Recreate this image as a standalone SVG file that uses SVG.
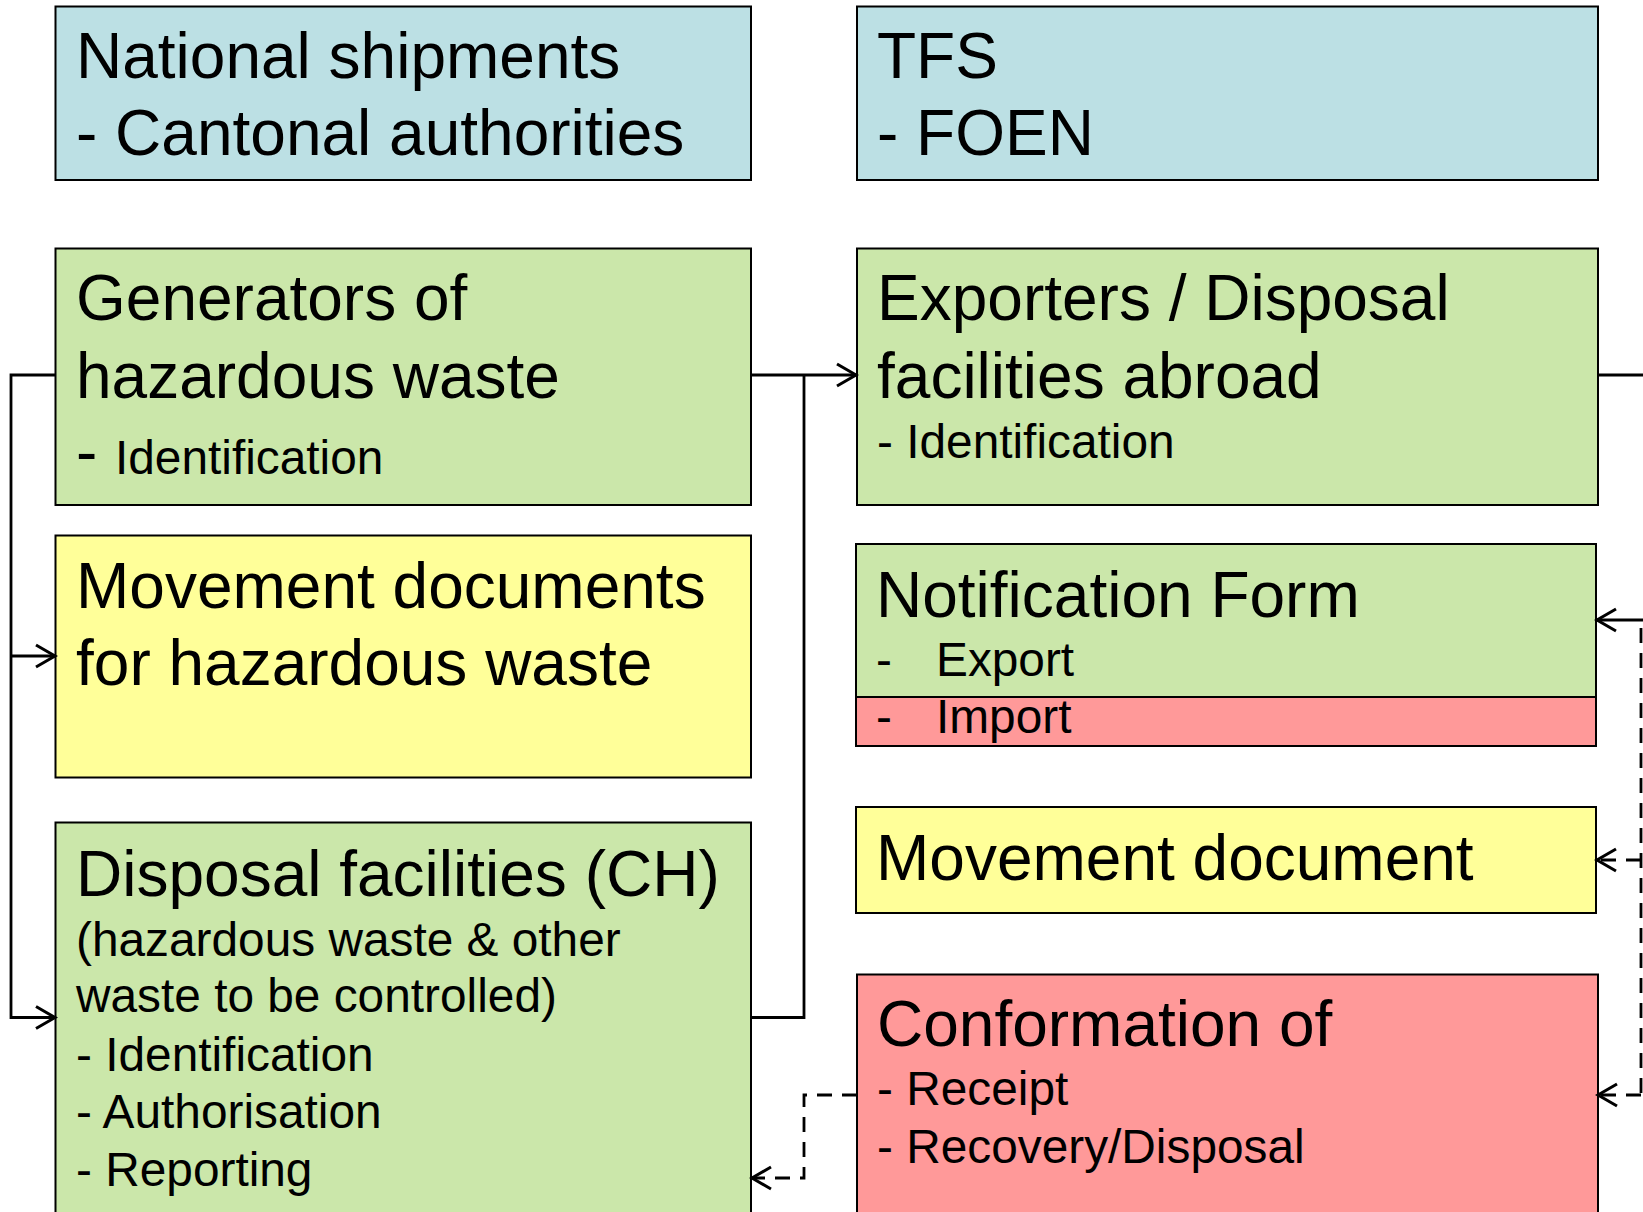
<svg xmlns="http://www.w3.org/2000/svg" width="1643" height="1212" viewBox="0 0 1643 1212">
<style>
.box{stroke:#000;stroke-width:2}
.blue{fill:#BCE0E4}
.green{fill:#CBE7AA}
.yellow{fill:#FFFF99}
.red{fill:#FF9999}
text{font-family:"Liberation Sans",Arial,sans-serif;fill:#000}
.big{font-size:64px}
.small{font-size:47.8px}
.conn{fill:none;stroke:#000;stroke-width:2.8}
.dash{stroke-dasharray:15 10}
</style>
<defs>
<marker id="arr" markerWidth="24" markerHeight="26" refX="21" refY="13" orient="auto" markerUnits="userSpaceOnUse">
<path d="M2,2 L21,13 L2,24" fill="none" stroke="#000" stroke-width="3"/>
</marker>
</defs>
<rect width="1643" height="1212" fill="#fff"/>
<g id="national">
<rect class="box blue" x="55.5" y="6.5" width="695.5" height="173.5"/>
<text class="big" x="76" y="78">National shipments</text>
<text class="big" x="76" y="155">- Cantonal authorities</text>
</g>
<g id="tfs">
<rect class="box blue" x="857" y="6.5" width="741" height="173.5"/>
<text class="big" x="877" y="78">TFS</text>
<text class="big" x="877" y="155">- FOEN</text>
</g>
<g id="generators">
<rect class="box green" x="55.5" y="248.5" width="695.5" height="256.5"/>
<text class="big" x="76" y="320">Generators of</text>
<text class="big" x="76" y="398">hazardous waste</text>
<text x="76" y="474"><tspan class="big">-</tspan><tspan class="small" x="115">Identification</tspan></text>
</g>
<g id="exporters">
<rect class="box green" x="857" y="248.5" width="741" height="256.5"/>
<text class="big" x="877" y="320">Exporters / Disposal</text>
<text class="big" x="877" y="398">facilities abroad</text>
<text class="small" x="877" y="458">- Identification</text>
</g>
<g id="movement-docs">
<rect class="box yellow" x="55.5" y="535.5" width="695.5" height="242"/>
<text class="big" x="76" y="608">Movement documents</text>
<text class="big" x="76" y="685">for hazardous waste</text>
</g>
<g id="notification">
<rect class="box green" x="856" y="544" width="740" height="153"/>
<rect class="box red" x="856" y="697" width="740" height="49"/>
<text class="big" x="876" y="617">Notification Form</text>
<text class="small" x="876" y="676">-</text>
<text class="small" x="936" y="676">Export</text>
<text class="small" x="876" y="733">-</text>
<text class="small" x="936" y="733">Import</text>
</g>
<g id="movement-document">
<rect class="box yellow" x="856" y="807" width="740" height="106"/>
<text class="big" x="876" y="880">Movement document</text>
</g>
<g id="disposal">
<rect class="box green" x="55.5" y="822.5" width="695.5" height="400"/>
<text class="big" x="76" y="896">Disposal facilities (CH)</text>
<text class="small" x="76" y="956">(hazardous waste &amp; other</text>
<text class="small" x="76" y="1012">waste to be controlled)</text>
<text class="small" x="76" y="1071">- Identification</text>
<text class="small" x="76" y="1128">- Authorisation</text>
<text class="small" x="76" y="1186">- Reporting</text>
</g>
<g id="conformation">
<rect class="box red" x="857" y="974.5" width="741" height="250"/>
<text class="big" x="877" y="1046">Conformation of</text>
<text class="small" x="877" y="1105">- Receipt</text>
<text class="small" x="877" y="1163">- Recovery/Disposal</text>
</g>
<g id="connectors">
<path class="conn" d="M55.5,375 H11 V1017.5 H55" marker-end="url(#arr)"/>
<path class="conn" d="M11,656 H55" marker-end="url(#arr)"/>
<path class="conn" d="M751,375 H856" marker-end="url(#arr)"/>
<path class="conn" d="M751,1017.5 H804 V375"/>
<path class="conn" d="M1598,375 H1643"/>
<path class="conn" d="M1643,620 H1597" marker-end="url(#arr)"/>
<path class="conn dash" d="M1641,628 V1095"/>
<path class="conn dash" d="M1641,860 H1597" marker-end="url(#arr)"/>
<path class="conn dash" d="M1641,1095 H1598" marker-end="url(#arr)"/>
<path class="conn dash" d="M857,1095 H804 V1178 H752" marker-end="url(#arr)"/>
</g>
</svg>
